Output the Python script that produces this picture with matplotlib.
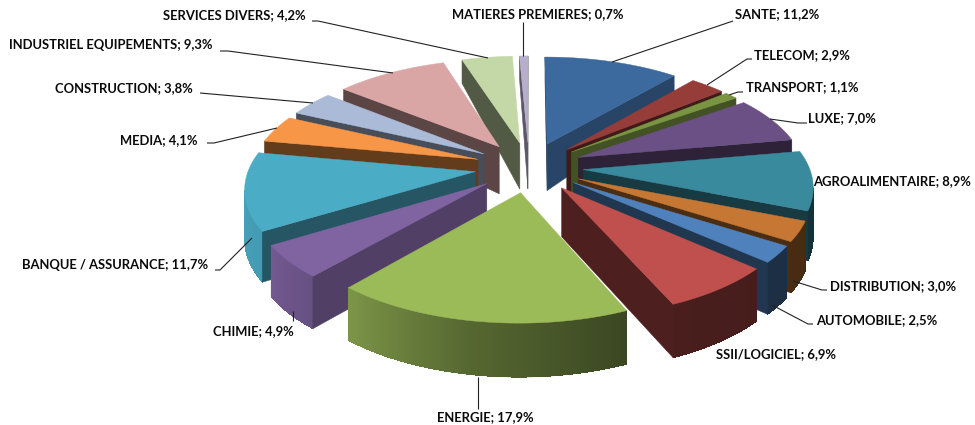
import numpy as np
import matplotlib
matplotlib.use("Agg")
import matplotlib.pyplot as plt

categories = ["SANTE", "TELECOM", "TRANSPORT", "LUXE", "AGROALIMENTAIRE", "DISTRIBUTION",
              "AUTOMOBILE", "SSII/LOGICIEL", "ENERGIE", "CHIMIE", "BANQUE / ASSURANCE",
              "MEDIA", "CONSTRUCTION", "INDUSTRIEL EQUIPEMENTS", "SERVICES DIVERS",
              "MATIERES PREMIERES"]
values = [11.2, 2.9, 1.1, 7.0, 8.9, 3.0, 2.5, 6.9, 17.9, 4.9, 11.7, 4.1, 3.8, 9.3, 4.2, 0.7]
colors = ["#3d6a9e", "#963d3a", "#7a9542", "#6a5084", "#3a8a9e", "#c67733", "#4f81bd", "#c0504d",
          "#9bbb59", "#8064a2", "#4bacc6", "#f79646", "#aabad7", "#d9a6a5", "#c4d7a6", "#b7aecb"]
wall_factor = [.65, .42, .55, .42, .42, .38, .42, .40, .42, .63, .50, .40, .42, .42, .42, .50]

label_pos = {  # anchor x, y, ha
    "SANTE": (735, 14, "left"), "TELECOM": (754, 55, "left"), "TRANSPORT": (746, 87, "left"),
    "LUXE": (808, 118, "left"), "AGROALIMENTAIRE": (813, 181, "left"),
    "DISTRIBUTION": (830, 286, "left"), "AUTOMOBILE": (816, 320, "left"),
    "SSII/LOGICIEL": (716, 354, "left"), "ENERGIE": (437, 417, "left"),
    "CHIMIE": (213, 331, "left"), "BANQUE / ASSURANCE": (22, 265, "left"),
    "MEDIA": (120, 140, "left"), "CONSTRUCTION": (55, 88, "left"),
    "INDUSTRIEL EQUIPEMENTS": (9, 45, "left"), "SERVICES DIVERS": (163, 15, "left"),
    "MATIERES PREMIERES": (452, 14, "left"),
}
leaders = {
    "SANTE": [(733, 21), (612, 62)], "TELECOM": [(752, 59), (747, 59), (707, 85)],
    "TRANSPORT": [(743, 92), (738, 92), (729, 95)], "LUXE": [(807, 123), (798, 123), (770, 119)],
    "DISTRIBUTION": [(827, 290), (822, 290), (793, 281)],
    "AUTOMOBILE": [(813, 324), (808, 324), (772, 305)], "ENERGIE": [(478, 409), (478, 377)],
    "BANQUE / ASSURANCE": [(215, 270), (220, 270), (252, 238)],
    "CHIMIE": [(293, 321), (293, 311)],
    "MEDIA": [(207, 143), (214, 143), (277, 128)], "CONSTRUCTION": [(200, 93), (313, 103)],
    "INDUSTRIEL EQUIPEMENTS": [(220, 51), (228, 51), (393, 73)],
    "SERVICES DIVERS": [(312, 21), (318, 21), (488, 58)], "MATIERES PREMIERES": [(523, 22), (523, 56)],
}

CX, CY, A, B, K, E = 529.0, 167.0, 226.0, 104.8, 0.137, 0.24


def project(u, v):
    w = 1 - K * v
    return CX + A * u / w, CY + B * v / w


def depth(v):
    return np.interp(v, [-1.25, -0.2, 1.25], [22, 47, 54])


def shade(col, f):
    return tuple(np.array(matplotlib.colors.to_rgb(col)) * f)


def arc_shade(t):
    return np.interp(t, [100, 157, 190, 221, 240, 270], [.35, .38, .55, .80, .90, .95])


fig = plt.figure(figsize=(9.75, 4.25), dpi=100)
ax = fig.add_axes([0, 0, 1, 1])
ax.set_xlim(0, 975)
ax.set_ylim(425, 0)
ax.axis("off")

fracs = np.array(values) / np.sum(values)
edges = np.concatenate([[0], np.cumsum(fracs)]) * 360
mids = (edges[:-1] + edges[1:]) / 2
order = np.argsort(-np.cos(np.radians(mids)))

z = 1
for i in order:
    t0, t1, tm = edges[i], edges[i + 1], mids[i]
    tu = E * np.sin(np.radians(tm))
    tv = -E * np.cos(np.radians(tm))
    ts = np.linspace(t0, t1, max(3, int(t1 - t0) * 2))
    us = np.concatenate([[tu], tu + np.sin(np.radians(ts))])
    vs = np.concatenate([[tv], tv - np.cos(np.radians(ts))])
    xs, ys = project(us, vs)
    ds = depth(vs)
    n = len(xs)
    radial, arc = [], []
    for j in range(n):
        k = (j + 1) % n
        if xs[k] - xs[j] >= 0:
            continue
        wx = [xs[j], xs[k], xs[k], xs[j]]
        wy = [ys[j], ys[k], ys[k] + ds[k], ys[j] + ds[j]]
        if j == 0 or k == 0:
            radial.append((wx, wy, shade(colors[i], wall_factor[i])))
        else:
            arc.append((wx, wy, shade(colors[i], arc_shade((ts[j - 1] + ts[k - 1]) / 2))))
    if arc:
        # anti-aliased silhouette underneath, then seamless gradient strips on top
        ox = [a[0][0] for a in arc] + [arc[-1][0][1]] + [arc[-1][0][2]] + [a[0][3] for a in arc[::-1]]
        oy = [a[1][0] for a in arc] + [arc[-1][1][1]] + [arc[-1][1][2]] + [a[1][3] for a in arc[::-1]]
        ax.fill(ox, oy, color=arc[len(arc) // 2][2], lw=0.3, zorder=z)
        z += 1
        for wx, wy, col in arc:
            ax.fill(wx, wy, facecolor=col, edgecolor="none", lw=0, antialiased=False, zorder=z)
        z += 1
    for wx, wy, col in radial:
        ax.fill(wx, wy, color=col, lw=0.4, zorder=z)
    z += 1
    ax.fill(xs, ys, color=colors[i], lw=0.3, zorder=z)
    z += 1

for name, pts in leaders.items():
    px, py = zip(*pts)
    ax.plot(px, py, color="#222222", lw=0.8, zorder=z, solid_capstyle="butt")

for name, val in zip(categories, values):
    x, y, ha = label_pos[name]
    txt = f"{name}; {val:.1f}%".replace(".", ",")
    ax.text(x, y, txt, ha=ha, va="center", family="Lato", weight="bold", fontsize=9.4,
            color="#0a0a0a", zorder=z + 1)

fig.savefig("out.png", dpi=100)
